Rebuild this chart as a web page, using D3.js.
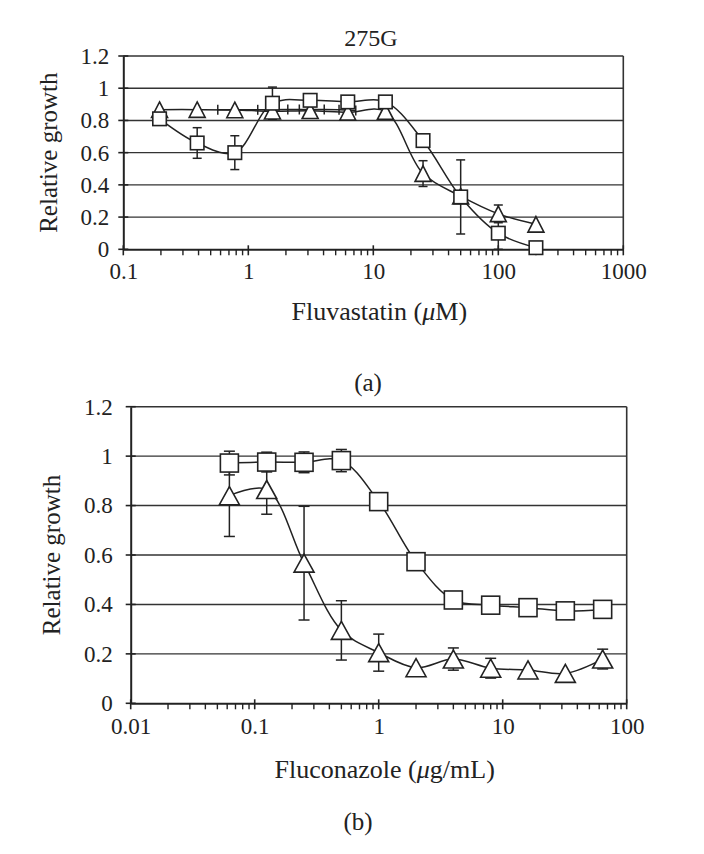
<!DOCTYPE html>
<html><head><meta charset="utf-8">
<script src="https://cdn.jsdelivr.net/npm/d3@7"></script>
<style>
body{margin:0;background:#fff}
svg{display:block}
text{font-family:"Liberation Serif","DejaVu Serif",serif;fill:#222}
</style>
</head><body>
<svg id="c" width="704" height="854"></svg>
<script>
// ---------- data ----------
const yTicks = [0, 0.2, 0.4, 0.6, 0.8, 1, 1.2];
const yTickLabels = ["0", "0.2", "0.4", "0.6", "0.8", "1", "1.2"];

const xTicksA = [0.1, 1, 10, 100, 1000];
const xTickLabelsA = ["0.1", "1", "10", "100", "1000"];
const xTicksB = [0.01, 0.1, 1, 10, 100];
const xTickLabelsB = ["0.01", "0.1", "1", "10", "100"];

// panel (a) Fluvastatin
const concA = [0.195, 0.39, 0.78, 1.56, 3.125, 6.25, 12.5, 25, 50, 100, 200];
const squareA = [0.81, 0.66, 0.60, 0.907, 0.925, 0.915, 0.915, 0.675, 0.325, 0.10, 0.01];
const squareErrA = [0, 0.095, 0.105, 0.10, 0, 0, 0, 0, 0.23, 0.10, 0];
const triangleA = [0.867, 0.867, 0.865, 0.857, 0.86, 0.85, 0.855, 0.47, 0.33, 0.22, 0.155];
const triangleErrA = [0, 0, 0, 0, 0, 0, 0, 0.08, 0, 0.055, 0];
const plusConcA = [0.57, 1.19, 2.07, 2.56, 4.05, 5.32, 7.24];
const plusA = [0.866, 0.866, 0.868, 0.868, 0.868, 0.866, 0.862];

// panel (b) Fluconazole
const concB = [0.0625, 0.125, 0.25, 0.5, 1, 2, 4, 8, 16, 32, 64];
const squareB = [0.972, 0.976, 0.975, 0.982, 0.816, 0.573, 0.418, 0.397, 0.387, 0.374, 0.38];
const squareErrB = [0.048, 0.04, 0.042, 0.045, 0, 0, 0, 0, 0, 0, 0];
const triangleB = [0.84, 0.865, 0.567, 0.295, 0.205, 0.144, 0.179, 0.142, 0.135, 0.121, 0.179];
const triangleErrB = [0.165, 0.10, 0.23, 0.12, 0.075, 0, 0.045, 0.04, 0, 0, 0.04];

// ---------- drawing ----------
const svg = d3.select("#c");
const INK = "#222";

function panel(o) {
  const g = svg.append("g");
  const x = d3.scaleLog().domain(o.xDomain).range([o.left, o.right]);
  const y = d3.scaleLinear().domain([0, 1.2]).range([o.bottom, o.top]);

  // gridlines
  g.selectAll(".grid").data(yTicks.filter(t => t > 0 && t < 1.2)).enter().append("line")
    .attr("x1", o.left).attr("x2", o.right)
    .attr("y1", d => y(d)).attr("y2", d => y(d))
    .attr("stroke", "#333").attr("stroke-width", 1.4);

  // frame top & right
  g.append("line").attr("x1", o.left).attr("x2", o.right).attr("y1", o.top).attr("y2", o.top)
    .attr("stroke", "#333").attr("stroke-width", 1.6);
  g.append("line").attr("x1", o.right).attr("x2", o.right).attr("y1", o.top).attr("y2", o.bottom)
    .attr("stroke", "#333").attr("stroke-width", 1.6);

  // y axis
  const ya = d3.axisLeft(y).tickValues(yTicks).tickSize(0).tickFormat((d, i) => yTickLabels[i]);
  const yg = g.append("g").attr("transform", `translate(${o.left},0)`).call(ya);
  yg.select(".domain").attr("stroke", INK).attr("stroke-width", 2);
  yg.selectAll(".tick text").attr("font-size", o.tickFont).attr("x", -o.ylabGap)
    .attr("font-family", '"Liberation Serif",serif').attr("fill", INK);
  g.selectAll(".yt").data(yTicks).enter().append("line")
    .attr("x1", o.left - 5).attr("x2", o.left + 5)
    .attr("y1", d => y(d)).attr("y2", d => y(d))
    .attr("stroke", INK).attr("stroke-width", 1.6);

  // x axis
  const xa = d3.axisBottom(x).tickValues(o.xTicks).tickSize(0)
    .tickFormat((d, i) => o.xTickLabels[i]);
  const xg = g.append("g").attr("transform", `translate(0,${o.bottom})`).call(xa);
  xg.select(".domain").attr("stroke", INK).attr("stroke-width", 2);
  xg.selectAll(".tick text").attr("font-size", o.tickFont).attr("y", o.xlabGap).attr("dy", 0)
    .attr("font-family", '"Liberation Serif",serif').attr("fill", INK);
  // major ticks
  g.selectAll(".xt").data(o.xTicks).enter().append("line")
    .attr("x1", d => x(d)).attr("x2", d => x(d))
    .attr("y1", o.bottom - 4).attr("y2", o.bottom + 6)
    .attr("stroke", INK).attr("stroke-width", 1.6);
  // minor ticks
  const minors = [];
  o.xTicks.slice(0, -1).forEach(b => { for (let k = 2; k <= 9; k++) minors.push(b * k); });
  g.selectAll(".xm").data(minors).enter().append("line")
    .attr("x1", d => x(d)).attr("x2", d => x(d))
    .attr("y1", o.bottom).attr("y2", o.bottom + 6)
    .attr("stroke", INK).attr("stroke-width", 1.4);

  // axis titles
  g.append("text").attr("transform", `translate(${o.yTitleX},${(o.top + o.bottom) / 2}) rotate(-90)`)
    .attr("text-anchor", "middle").attr("font-size", o.titleFont).text("Relative growth");
  const xt = g.append("text").attr("x", (o.left + o.right) / 2 + 6).attr("y", o.xTitleY)
    .attr("text-anchor", "middle").attr("font-size", o.titleFont + 1);
  xt.append("tspan").text(o.xTitle[0]);
  xt.append("tspan").attr("font-style", "italic").text("\u03bc");
  xt.append("tspan").text(o.xTitle[1]);

  g.append("text").attr("x", o.capX).attr("y", o.capY).attr("text-anchor", "middle")
    .attr("font-size", o.titleFont).text(o.caption);

  const line = d3.line().x(d => x(d[0])).y(d => y(d[1])).curve(d3.curveCatmullRom.alpha(0.5));

  o.series.forEach(s => {
    const pts = s.c.map((c, i) => [c, s.v[i], s.e ? s.e[i] : 0]);
    g.append("path").attr("d", line(pts)).attr("fill", "none")
      .attr("stroke", INK).attr("stroke-width", 1.5);
  });
  // error bars
  o.series.forEach(s => {
    if (!s.e) return;
    const pts = s.c.map((c, i) => [c, s.v[i], s.e[i]]).filter(p => p[2] > 0);
    const eg = g.append("g").attr("stroke", INK).attr("stroke-width", 1.5);
    pts.forEach(p => {
      const cx = x(p[0]), y1 = y(Math.max(0, p[1] - p[2])), y2 = y(p[1] + p[2]);
      eg.append("line").attr("x1", cx).attr("x2", cx).attr("y1", y1).attr("y2", y2);
      eg.append("line").attr("x1", cx - o.cap).attr("x2", cx + o.cap).attr("y1", y1).attr("y2", y1);
      eg.append("line").attr("x1", cx - o.cap).attr("x2", cx + o.cap).attr("y1", y2).attr("y2", y2);
    });
  });
  // markers
  o.series.forEach(s => {
    s.c.forEach((c, i) => {
      const cx = x(c), cy = y(s.v[i]);
      if (s.m === "square") {
        const h = o.sq / 2;
        g.append("rect").attr("x", cx - h).attr("y", cy - h).attr("width", o.sq).attr("height", o.sq)
          .attr("fill", "#fff").attr("stroke", INK).attr("stroke-width", 1.6);
      } else if (s.m === "triangle") {
        const w = o.triW / 2, h = o.triH / 2;
        g.append("path").attr("d", `M${cx},${cy - h}L${cx + w},${cy + h}L${cx - w},${cy + h}Z`)
          .attr("fill", "#fff").attr("stroke", INK).attr("stroke-width", 1.6);
      } else if (s.m === "plus") {
        g.append("line").attr("x1", cx).attr("x2", cx).attr("y1", cy - 5).attr("y2", cy + 5)
          .attr("stroke", INK).attr("stroke-width", 1.5);
      }
    });
  });
  return g;
}

panel({
  xDomain: [0.1, 1000], left: 123.3, right: 623.3, top: 56, bottom: 249.3,
  xTicks: xTicksA, xTickLabels: xTickLabelsA,
  tickFont: 23, titleFont: 25, ylabGap: 14, xlabGap: 30,
  yTitleX: 57, xTitleY: 320, xTitle: ["Fluvastatin (", "M)"],
  caption: "(a)", capX: 368, capY: 391,
  cap: 4.5, sq: 13.5, triW: 16, triH: 15.5,
  series: [
    { c: plusConcA, v: plusA, m: "plus" },
    { c: concA, v: triangleA, e: triangleErrA, m: "triangle" },
    { c: concA, v: squareA, e: squareErrA, m: "square" }
  ]
});

svg.append("text").attr("x", 371).attr("y", 46).attr("text-anchor", "middle")
  .attr("font-size", 24).text("275G");

panel({
  xDomain: [0.01, 100], left: 130.7, right: 626.7, top: 406.7, bottom: 703.3,
  xTicks: xTicksB, xTickLabels: xTickLabelsB,
  tickFont: 23, titleFont: 25, ylabGap: 18, xlabGap: 31,
  yTitleX: 60, xTitleY: 778, xTitle: ["Fluconazole (", "g/mL)"],
  caption: "(b)", capX: 358, capY: 830,
  cap: 5.5, sq: 18, triW: 20, triH: 18,
  series: [
    { c: concB, v: triangleB, e: triangleErrB, m: "triangle" },
    { c: concB, v: squareB, e: squareErrB, m: "square" }
  ]
});
</script>
</body></html>
